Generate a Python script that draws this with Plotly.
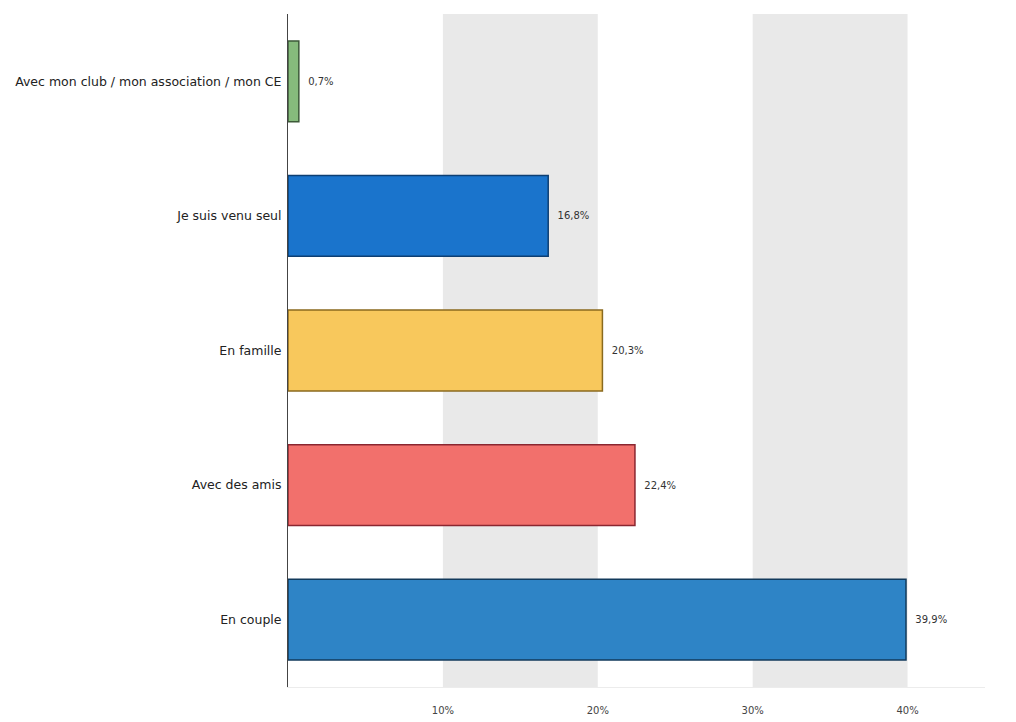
import plotly.graph_objects as go

categories = ["Avec mon club / mon association / mon CE", "Je suis venu seul", "En famille", "Avec des amis", "En couple"]
values = [0.7, 16.8, 20.3, 22.4, 39.9]
value_labels = ["0,7%", "16,8%", "20,3%", "22,4%", "39,9%"]
tick_vals = [10, 20, 30, 40]
tick_text = ["10%", "20%", "30%", "40%"]
bar_colors = ["#86bb7c", "#1a74cc", "#f8c85c", "#f2706c", "#2e84c6"]
line_colors = ["#3d5a38", "#0d3f73", "#8a6a1e", "#8a2630", "#123a5c"]

FONT = "DejaVu Sans, Arial"

fig = go.Figure()
fig.add_trace(go.Bar(
    x=values, y=categories, orientation="h",
    marker=dict(color=bar_colors, line=dict(color=line_colors, width=1.5)),
    text=["  " + t for t in value_labels], textposition="outside", cliponaxis=False,
    textfont=dict(family=FONT, size=10, color="#333"),
    width=0.6,
))

for x0, x1 in [(10, 20), (30, 40)]:
    fig.add_shape(type="rect", xref="x", yref="paper", x0=x0, x1=x1, y0=0, y1=1,
                  fillcolor="#e9e9e9", line=dict(width=0), layer="below")

fig.update_layout(
    width=1008, height=714,
    margin=dict(l=280, r=31, t=6, b=30),
    plot_bgcolor="white", paper_bgcolor="white",
    showlegend=False,
    font=dict(family=FONT, size=10, color="#333"),
)
fig.update_xaxes(range=[0, 45], tickvals=tick_vals, ticktext=tick_text,
                 showgrid=False, zeroline=False, showline=True, linecolor="#ececec", linewidth=1,
                 tickfont=dict(family=FONT, size=10, color="#444"), ticks="", ticklabelstandoff=14)
fig.update_yaxes(categoryorder="array", categoryarray=categories[::-1],
                 showgrid=False, zeroline=False, showline=True, linecolor="#444", linewidth=1,
                 ticks="", ticklabelstandoff=3,
                 tickfont=dict(family=FONT, size=12.5, color="#222"))

fig.write_html("out.html")
